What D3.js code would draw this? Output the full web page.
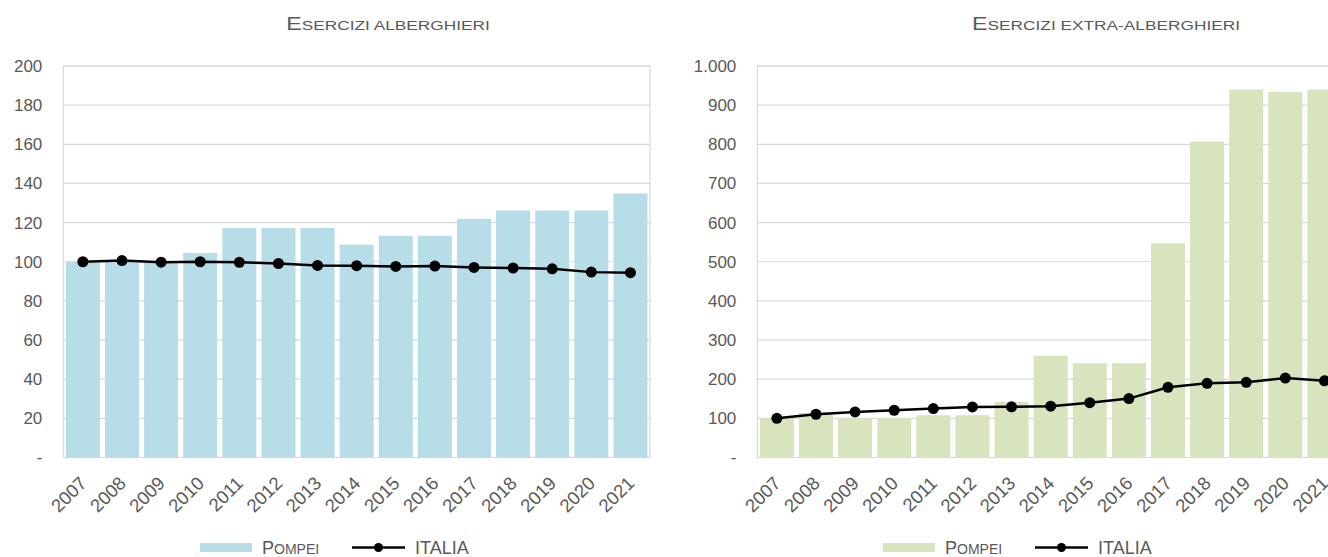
<!DOCTYPE html>
<html><head><meta charset="utf-8">
<script src="https://cdn.jsdelivr.net/npm/d3@7/dist/d3.min.js"></script>
<style>
html,body{margin:0;padding:0;background:#fff;}
svg{display:block;font-family:"Liberation Sans",Arial,sans-serif;}
</style></head>
<body>
<svg id="chart" width="1328" height="557"></svg>
<script>
const years = ["2007","2008","2009","2010","2011","2012","2013","2014","2015","2016","2017","2018","2019","2020","2021"];
const pompeiHotel = [100,100,100,104.5,117.3,117.3,117.3,108.8,113.3,113.3,121.9,126.2,126.2,126.2,134.9];
const italiaHotel = [100,100.6,99.8,100,99.7,99.1,98.1,98.0,97.6,97.8,97.1,96.8,96.4,94.7,94.4];
const pompeiExtra = [100,114,100,100,108,108,142,260,241,241,547,807,940,934,940];
const italiaExtra = [100,110.5,116.5,120.7,125,129.3,129.5,131,140,150.5,179.4,189.6,192,203,196];
const ticksHotel = [0,20,40,60,80,100,120,140,160,180,200];
const ticksExtra = [0,100,200,300,400,500,600,700,800,900,1000];
const titles = ["Esercizi alberghieri","Esercizi extra-alberghieri"];
const legendLabels = ["Pompei","Italia"];

const svg = d3.select("#chart");
const textColor = "#595959";
const gridColor = "#d9d9d9";
const loc = d3.formatLocale({decimal:",",thousands:".",grouping:[3],currency:["€",""]});
const fmt = v => v === 0 ? "-" : loc.format(",")(v);

function drawChart(cfg){
  const {x0,x1,y0,y1,domainMax,ticks,bars,line,barColor,title,titleX,legend} = cfg;
  const g = svg.append("g");
  const x = d3.scaleBand().domain(years).range([x0,x1]).paddingInner(0.13).paddingOuter(0.065);
  const y = d3.scaleLinear().domain([0,domainMax]).range([y1,y0]);

  // gridlines
  g.append("g").selectAll("line").data(ticks).join("line")
    .attr("x1",x0).attr("x2",x1).attr("y1",d=>y(d)).attr("y2",d=>y(d))
    .attr("stroke",gridColor).attr("stroke-width",1.2);
  // frame
  g.append("rect").attr("x",x0).attr("y",y0).attr("width",x1-x0).attr("height",y1-y0)
    .attr("fill","none").attr("stroke",gridColor).attr("stroke-width",1.2);

  // y axis labels
  const yAxis = d3.axisLeft(y).tickValues(ticks).tickFormat(fmt).tickSize(0).tickPadding(21);
  const ya = g.append("g").attr("transform",`translate(${x0},0)`).call(yAxis);
  ya.select(".domain").remove();
  ya.selectAll("text").attr("fill",textColor).attr("font-size",17)
    .attr("font-family","Liberation Sans, Arial, sans-serif");

  // bars
  g.append("g").selectAll("rect").data(bars).join("rect")
    .attr("x",(d,i)=>x(years[i])).attr("width",x.bandwidth())
    .attr("y",d=>y(d)).attr("height",d=>y(0)-y(d))
    .attr("fill",barColor);

  // x axis labels
  const xAxis = d3.axisBottom(x).tickSize(0).tickPadding(0);
  const xa = g.append("g").attr("transform",`translate(0,${y1})`).call(xAxis);
  xa.select(".domain").remove();
  xa.selectAll("text").attr("fill",textColor).attr("font-size",18.5)
    .attr("font-family","Liberation Sans, Arial, sans-serif")
    .attr("text-anchor","end").attr("dy",null).attr("y",null)
    .attr("transform","translate(5,27) rotate(-45)");

  // line
  const lineGen = d3.line().x((d,i)=>x(years[i])+x.bandwidth()/2).y(d=>y(d));
  g.append("path").datum(line).attr("d",lineGen).attr("fill","none")
    .attr("stroke","#000").attr("stroke-width",2.5).attr("stroke-linejoin","round");
  g.append("g").selectAll("circle").data(line).join("circle")
    .attr("cx",(d,i)=>x(years[i])+x.bandwidth()/2).attr("cy",d=>y(d)).attr("r",5.5).attr("fill","#000");

  // title (small caps)
  const t = g.append("text").attr("transform",`translate(${titleX},30) scale(1.33,1)`)
    .attr("text-anchor","middle").attr("fill",textColor);
  t.append("tspan").attr("font-size",17.5).text(title.charAt(0).toUpperCase());
  t.append("tspan").attr("font-size",13).text(title.slice(1).toUpperCase());

  // legend
  const lg = g.append("g");
  lg.append("rect").attr("x",legend.rx).attr("y",543).attr("width",52).attr("height",9).attr("fill",barColor);
  const lt = lg.append("text").attr("x",legend.rx+62).attr("y",554).attr("fill",textColor);
  lt.append("tspan").attr("font-size",18).text(legendLabels[0].charAt(0).toUpperCase());
  lt.append("tspan").attr("font-size",14).text(legendLabels[0].slice(1).toUpperCase());
  lg.append("line").attr("x1",legend.lx).attr("x2",legend.lx+53).attr("y1",547.5).attr("y2",547.5)
    .attr("stroke","#000").attr("stroke-width",2.5);
  lg.append("circle").attr("cx",legend.lx+26.5).attr("cy",547.5).attr("r",4.5).attr("fill","#000");
  lg.append("text").attr("x",legend.lx+63).attr("y",554).attr("fill",textColor).attr("font-size",18)
    .text(legendLabels[1].toUpperCase());
}

drawChart({x0:63.3,x1:650,y0:66,y1:457.5,domainMax:200,ticks:ticksHotel,bars:pompeiHotel,line:italiaHotel,
  barColor:"#b7dde8",title:titles[0],titleX:388,legend:{rx:200,lx:352}});
drawChart({x0:757.3,x1:1344,y0:66,y1:457.5,domainMax:1000,ticks:ticksExtra,bars:pompeiExtra,line:italiaExtra,
  barColor:"#d7e4bd",title:titles[1],titleX:1106,legend:{rx:883,lx:1035}});
</script>
</body></html>
